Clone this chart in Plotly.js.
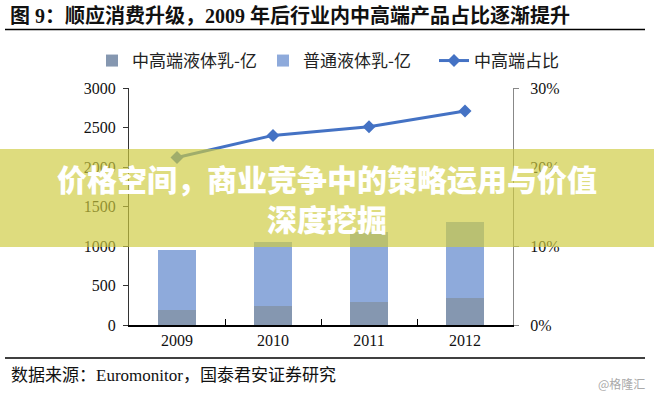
<!DOCTYPE html>
<html>
<head>
<meta charset="utf-8">
<script src="https://cdn.plot.ly/plotly-3.0.1.min.js"></script>
<style>html,body{margin:0;padding:0;background:#fff;}#chart{width:654px;height:397px;}</style>
</head>
<body>
<div id="chart"></div>
<script>
// ---- data ----
const years = ['2009', '2010', '2011', '2012'];
const highEnd = [190, 240, 295, 345];          // 中高端液体乳-亿
const normal = [760, 815, 885, 962];           // 普通液体乳-亿
const highShare = [0.212, 0.240, 0.251, 0.271]; // 中高端占比
const seriesNames = ['中高端液体乳-亿', '普通液体乳-亿', '中高端占比'];
const leftTicks = [0, 500, 1000, 1500, 2000, 2500, 3000];
const rightTicks = [0, 0.1, 0.2, 0.3];
const titleText = '图 9：顺应消费升级，2009 年后行业内中高端产品占比逐渐提升';
const sourceText = '数据来源：Euromonitor，国泰君安证券研究';
const bannerLine1 = '价格空间，商业竞争中的策略运用与价值';
const bannerLine2 = '深度挖掘';
const watermark = '@格隆汇';

// ---- layout helpers (pixel -> paper) ----
const L = 129, R = 141, T = 88, B = 72, W = 654, H = 397;
const pw = W - L - R, ph = H - T - B;
const px = x => (x - L) / pw;
const py = y => (H - B - y) / ph;

const serif = 'Liberation Serif, Noto Sans CJK SC, serif';
const cjk = 'Noto Sans CJK SC, sans-serif';

const traces = [
  {type: 'bar', x: years, y: highEnd, name: seriesNames[0],
   marker: {color: '#8597b0'}, hoverinfo: 'skip'},
  {type: 'bar', x: years, y: normal, name: seriesNames[1],
   marker: {color: '#8eaadb'}, hoverinfo: 'skip'},
  {type: 'scatter', mode: 'lines+markers', x: years, y: highShare, yaxis: 'y2',
   name: seriesNames[2], line: {color: '#4472c4', width: 3},
   marker: {symbol: 'diamond', size: 10, color: '#4472c4'}, hoverinfo: 'skip'}
];

const layout = {
  width: W, height: H,
  margin: {l: L, r: R, t: T, b: B, pad: 0},
  paper_bgcolor: '#fff', plot_bgcolor: '#fff',
  barmode: 'stack', bargap: 0.6,
  showlegend: true,
  legend: {orientation: 'h', x: px(92), xanchor: 'left', y: py(61), yanchor: 'middle',
           font: {family: cjk, size: 17, color: '#222'}, itemwidth: 30, tracegroupgap: 0,
           entrywidth: 126, entrywidthmode: 'pixels', traceorder: 'normal'},
  xaxis: {type: 'category', showline: true, linecolor: '#000', linewidth: 1.5,
          ticks: 'inside', tickson: 'boundaries', ticklen: 6, tickcolor: '#000',
          tickfont: {family: serif, size: 16, color: '#111'}, showgrid: false,
          zeroline: false, fixedrange: true},
  yaxis: {range: [0, 3000], tickvals: leftTicks, showline: true, linecolor: '#333',
          linewidth: 1, ticks: 'outside', ticklen: 5, tickcolor: '#333',
          tickfont: {family: serif, size: 16, color: '#111'}, showgrid: false,
          zeroline: false, ticklabelstandoff: 4},
  yaxis2: {overlaying: 'y', side: 'right', range: [0, 0.3], tickvals: rightTicks,
           tickformat: '.0%', showline: true, linecolor: '#888', linewidth: 1,
           ticks: 'outside', ticklen: 5, tickcolor: '#888',
           tickfont: {family: serif, size: 16, color: '#111'}, showgrid: false,
           zeroline: false, ticklabelstandoff: 8},
  shapes: [
    {type: 'line', xref: 'paper', yref: 'paper', x0: px(5), x1: px(645), y0: py(29.5), y1: py(29.5),
     line: {color: '#000', width: 1.5}},
    {type: 'line', xref: 'paper', yref: 'paper', x0: px(5), x1: px(645), y0: py(358), y1: py(358),
     line: {color: '#000', width: 1.5}},
    {type: 'rect', xref: 'paper', yref: 'paper', x0: px(0), x1: px(654), y0: py(247), y1: py(149),
     fillcolor: 'rgba(206,203,62,0.67)', line: {width: 0}, layer: 'above'}
  ],
  annotations: [
    {text: titleText, xref: 'paper', yref: 'paper', x: px(8), y: py(16), xanchor: 'left', yanchor: 'middle',
     showarrow: false, font: {family: serif, size: 20, color: '#111', weight: 'bold'}},
    {text: sourceText, xref: 'paper', yref: 'paper', x: px(9), y: py(375), xanchor: 'left', yanchor: 'middle',
     showarrow: false, font: {family: serif, size: 17, color: '#111'}},
    {text: watermark, xref: 'paper', yref: 'paper', x: px(647), y: py(383), xanchor: 'right', yanchor: 'middle',
     showarrow: false, font: {family: cjk, size: 12, color: '#aaa'}},
    {text: bannerLine1, xref: 'paper', yref: 'paper', x: px(327), y: py(178), xanchor: 'center', yanchor: 'middle',
     showarrow: false, font: {family: cjk, size: 30, color: '#fff', weight: 900}},
    {text: bannerLine2, xref: 'paper', yref: 'paper', x: px(327), y: py(218), xanchor: 'center', yanchor: 'middle',
     showarrow: false, font: {family: cjk, size: 30, color: '#fff', weight: 900}}
  ]
};

Plotly.newPlot('chart', traces, layout, {displayModeBar: false, staticPlot: true});
</script>
</body>
</html>
